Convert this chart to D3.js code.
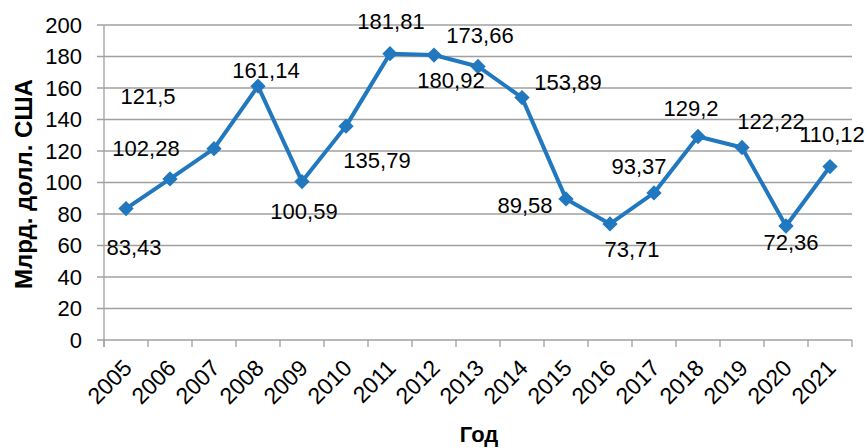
<!DOCTYPE html>
<html><head><meta charset="utf-8">
<script src="https://cdn.jsdelivr.net/npm/d3@7"></script>
<style>body{margin:0;background:#fff}svg{display:block}text{font-family:"Liberation Sans",Arial,sans-serif;fill:#000}</style>
</head><body><div id="chart"></div>
<script>
const years = ["2005","2006","2007","2008","2009","2010","2011","2012","2013","2014","2015","2016","2017","2018","2019","2020","2021"];
const values = [83.43,102.28,121.5,161.14,100.59,135.79,181.81,180.92,173.66,153.89,89.58,73.71,93.37,129.2,122.22,72.36,110.12];
const valueLabels = ["83,43","102,28","121,5","161,14","100,59","135,79","181,81","180,92","173,66","153,89","89,58","73,71","93,37","129,2","122,22","72,36","110,12"];
const yTicks = [0,20,40,60,80,100,120,140,160,180,200];
// label placement relative to point (px offsets of label centre)
const labelOffsets = [[8,39],[-24,-31],[-66,-52],[8,-16],[2,30],[31,34],[1,-32],[17,25],[2,-31],[46,-15],[-41,6],[22,25],[-15,-27],[-7,-28],[29,-26],[5,16],[2,-32]];

const W=867,H=448, m={l:104,r:15,t:25,b:108};
const svg=d3.select("#chart").append("svg").attr("width",W).attr("height",H);
const x=d3.scaleBand().domain(years).range([m.l,W-m.r]);
const y=d3.scaleLinear().domain([0,200]).range([H-m.b,m.t]);
const grey="#a0a0a0", blue="#2178be";

// gridlines
svg.append("g").selectAll("line").data(yTicks).join("line")
  .attr("x1",m.l-7).attr("x2",W-m.r).attr("y1",d=>y(d)).attr("y2",d=>y(d))
  .attr("stroke",grey).attr("stroke-width",1.3);
// y tick labels
svg.append("g").selectAll("text").data(yTicks).join("text")
  .attr("x",82).attr("y",d=>y(d)).attr("dy","0.35em").attr("text-anchor","end")
  .attr("font-size",22).text(d=>d);
// y axis line
svg.append("line").attr("x1",m.l).attr("x2",m.l).attr("y1",m.t).attr("y2",y(0)+7).attr("stroke",grey).attr("stroke-width",1.3);
// x ticks
const xt=years.map(d=>x(d)).concat([x.range()[1]]);
svg.append("g").selectAll("line").data(xt).join("line")
  .attr("x1",d=>d).attr("x2",d=>d).attr("y1",y(0)).attr("y2",y(0)+7).attr("stroke",grey).attr("stroke-width",1.3);
// x labels
svg.append("g").selectAll("text").data(years).join("text")
  .attr("transform",d=>`translate(${x(d)+x.bandwidth()/2-4},${y(0)+18}) rotate(-45)`)
  .attr("text-anchor","end").attr("dy","0.7em").attr("font-size",23).text(d=>d);

// line
const cx=(d,i)=>x(years[i])+x.bandwidth()/2;
svg.append("path").datum(values)
  .attr("d",d3.line().x((d,i)=>cx(d,i)).y(d=>y(d)))
  .attr("fill","none").attr("stroke",blue).attr("stroke-width",4).attr("stroke-linejoin","round");
// markers
svg.append("g").selectAll("path").data(values).join("path")
  .attr("transform",(d,i)=>`translate(${cx(d,i)},${y(d)})`)
  .attr("d",d3.symbol().type(d3.symbolDiamond2).size(150))
  .attr("fill",blue);
// value labels
svg.append("g").selectAll("text").data(values).join("text")
  .attr("x",(d,i)=>cx(d,i)+labelOffsets[i][0]).attr("y",(d,i)=>y(d)+labelOffsets[i][1])
  .attr("dy","0.35em").attr("text-anchor","middle").attr("font-size",22).text((d,i)=>valueLabels[i]);

// axis titles
svg.append("text").attr("transform","translate(32,184) rotate(-90)").attr("text-anchor","middle")
  .attr("font-size",24).attr("font-weight","bold").text("Млрд. долл. США");
svg.append("text").attr("x",479).attr("y",442).attr("text-anchor","middle")
  .attr("font-size",22).attr("font-weight","bold").text("Год");
</script></body></html>
